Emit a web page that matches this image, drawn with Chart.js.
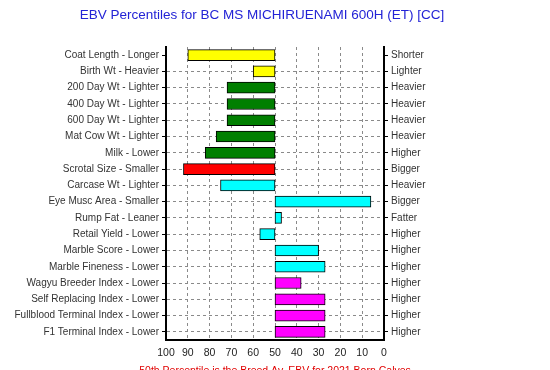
<!DOCTYPE html>
<html>
<head>
<meta charset="utf-8">
<style>
  html, body { margin: 0; padding: 0; background: #fff; overflow: hidden; }
  #wrap { width: 550px; height: 370px; }
</style>
<script src="https://cdn.jsdelivr.net/npm/chart.js@4/dist/chart.umd.min.js"></script>
</head>
<body>
<div id="wrap"><canvas id="ebvChart"></canvas></div>
<script>
const traits = [
  "Coat Length - Longer", "Birth Wt - Heavier", "200 Day Wt - Lighter", "400 Day Wt - Lighter",
  "600 Day Wt - Lighter", "Mat Cow Wt - Lighter", "Milk - Lower", "Scrotal Size - Smaller",
  "Carcase Wt - Lighter", "Eye Musc Area - Smaller", "Rump Fat - Leaner", "Retail Yield - Lower",
  "Marble Score - Lower", "Marble Fineness - Lower", "Wagyu Breeder Index - Lower",
  "Self Replacing Index - Lower", "Fullblood Terminal Index - Lower", "F1 Terminal Index - Lower"
];
const rightLabels = [
  "Shorter", "Lighter", "Heavier", "Heavier", "Heavier", "Heavier", "Higher", "Bigger",
  "Heavier", "Bigger", "Fatter", "Higher", "Higher", "Higher", "Higher", "Higher", "Higher", "Higher"
];
const breedAverage = 50;
const percentiles = [90, 60, 72, 72, 72, 77, 82, 92, 75, 6, 47, 57, 30, 27, 38, 27, 27, 27];
const barColors = [
  "#ffff00", "#ffff00", "#007f00", "#007f00", "#007f00", "#007f00", "#007f00", "#ff0000",
  "#00ffff", "#00ffff", "#00ffff", "#00ffff", "#00ffff", "#00ffff",
  "#ff00ff", "#ff00ff", "#ff00ff", "#ff00ff"
];
const xTicks = [100, 90, 80, 70, 60, 50, 40, 30, 20, 10, 0];
const titleText = "EBV Percentiles for BC MS MICHIRUENAMI 600H (ET) [CC]";
const footnote = "50th Percentile is the Breed Av. EBV for 2021 Born Calves";

const tickFont = { family: "'Liberation Sans', Arial, sans-serif", size: 10 };
const dashGrid = "#8a8a8a";

// title sits a little left of centre in the original, and the red note is cut off at the bottom
const textPlugin = {
  id: "extraText",
  afterDraw(chart) {
    const { ctx, chartArea } = chart;
    ctx.save();
    ctx.textAlign = "center";
    ctx.textBaseline = "middle";
    ctx.fillStyle = "#2323d6";
    ctx.font = "13.5px 'Liberation Sans', Arial, sans-serif";
    ctx.fillText(titleText, 262, 15);
    ctx.fillStyle = "#e00000";
    ctx.font = "10.5px 'Liberation Sans', Arial, sans-serif";
    ctx.textBaseline = "top";
    ctx.fillText(footnote, (chartArea.left + chartArea.right) / 2, 366);
    ctx.restore();
  }
};

new Chart(document.getElementById("ebvChart"), {
  type: "bar",
  data: {
    labels: traits,
    datasets: [{
      data: percentiles.map(v => [breedAverage, v]),
      backgroundColor: barColors,
      borderColor: "#000",
      borderWidth: 1,
      borderSkipped: false,
      barThickness: 11,
      xAxisID: "x",
      yAxisID: "y"
    }]
  },
  options: {
    indexAxis: "y",
    responsive: true,
    maintainAspectRatio: false,
    animation: false,
    layout: { padding: { top: 47, bottom: 0, left: 0, right: 0 } },
    plugins: {
      legend: { display: false },
      tooltip: { enabled: false },
      title: { display: false }
    },
    scales: {
      x: {
        type: "linear",
        min: 0,
        max: 100,
        reverse: true,
        afterBuildTicks: s => { s.ticks = xTicks.map(v => ({ value: v })); },
        afterFit: s => { s.height = 30; },
        ticks: { color: "#222", font: { ...tickFont, size: 10.5 }, padding: 7, maxRotation: 0, minRotation: 0 },
        grid: { color: dashGrid, lineWidth: 1, tickLength: 0 },
        border: { display: true, color: "#000", width: 2, dash: [3, 3] }
      },
      y: {
        type: "category",
        position: "left",
        offset: true,
        afterFit: s => { s.width = 166; },
        ticks: { color: "#333", font: tickFont, padding: 3, autoSkip: false },
        grid: {
          offset: false,
          color: c => c.index === 0 ? "rgba(0,0,0,0)" : dashGrid,
          tickColor: "#000",
          tickLength: 4
        },
        border: { display: true, color: "#000", width: 2, dash: [3, 3] }
      },
      y2: {
        type: "category",
        position: "right",
        labels: rightLabels,
        offset: true,
        afterFit: s => { s.width = 166; },
        ticks: { color: "#333", font: tickFont, padding: 3, autoSkip: false },
        grid: { offset: false, drawOnChartArea: false, tickColor: "#000", tickLength: 4 },
        border: { display: true, color: "#000", width: 2 }
      }
    }
  },
  plugins: [textPlugin]
});
</script>
</body>
</html>
